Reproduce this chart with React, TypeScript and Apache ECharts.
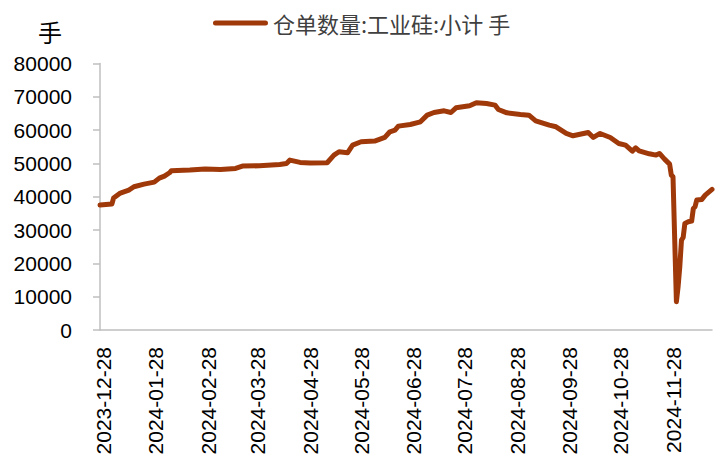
import { useEffect, useRef } from "react";
import * as echarts from "echarts";

const SERIES_NAME = "仓单数量:工业硅:小计 手";
const Y_UNIT = "手";
const START_DATE = "2023-12-26";
const END_DATE = "2024-12-21";

const sampleDates = [
  "2023-12-26", "2024-01-02", "2024-01-03", "2024-01-07", "2024-01-12", "2024-01-15",
  "2024-01-21", "2024-01-27", "2024-01-30", "2024-02-02", "2024-02-05", "2024-02-06",
  "2024-02-17", "2024-02-26", "2024-03-06", "2024-03-15", "2024-03-19", "2024-03-29",
  "2024-04-10", "2024-04-14", "2024-04-16", "2024-04-22", "2024-04-28", "2024-05-08",
  "2024-05-12", "2024-05-15", "2024-05-20", "2024-05-23", "2024-05-28", "2024-06-05",
  "2024-06-11", "2024-06-14", "2024-06-17", "2024-06-19", "2024-06-26", "2024-07-02",
  "2024-07-06", "2024-07-10", "2024-07-16", "2024-07-20", "2024-07-23", "2024-07-31",
  "2024-08-04", "2024-08-10", "2024-08-15", "2024-08-17", "2024-08-22", "2024-08-30",
  "2024-09-04", "2024-09-08", "2024-09-16", "2024-09-20", "2024-09-26", "2024-09-30",
  "2024-10-09", "2024-10-12", "2024-10-16", "2024-10-22", "2024-10-27", "2024-10-31",
  "2024-11-04", "2024-11-06", "2024-11-08", "2024-11-14", "2024-11-18", "2024-11-20",
  "2024-11-23", "2024-11-26", "2024-11-27", "2024-11-28", "2024-11-30", "2024-12-01",
  "2024-12-02", "2024-12-03", "2024-12-04", "2024-12-05", "2024-12-07", "2024-12-09",
  "2024-12-10", "2024-12-11", "2024-12-12", "2024-12-15", "2024-12-17", "2024-12-21",
];

const sampleValues = [
  37500, 37800, 39600, 41100, 42000, 43000,
  43800, 44400, 45600, 46200, 47200, 47800,
  48000, 48300, 48200, 48500, 49200, 49300,
  49700, 50000, 51000, 50300, 50100, 50200,
  52500, 53500, 53200, 55500, 56500, 56700,
  57800, 59500, 60000, 61200, 61700, 62500,
  64500, 65300, 65800, 65300, 66700, 67300,
  68200, 68000, 67500, 66200, 65200, 64700,
  64500, 62800, 61500, 61000, 59000, 58300,
  59300, 57800, 59000, 57800, 56000, 55500,
  53700, 54700, 53800, 52900, 52500, 53000,
  51300, 49800, 46500, 46000, 8500, 13000,
  19000, 27000, 27800, 32000, 32500, 32700,
  36500, 37000, 39000, 39200, 40500, 42200,
];

function buildCategories(start: string, end: string): string[] {
  const out: string[] = [];
  const d = new Date(start + "T00:00:00Z");
  const e = new Date(end + "T00:00:00Z");
  while (d.getTime() <= e.getTime()) {
    out.push(d.toISOString().slice(0, 10));
    d.setUTCDate(d.getUTCDate() + 1);
  }
  return out;
}

export default function App() {
  const ref = useRef<HTMLDivElement>(null);
  useEffect(() => {
    if (!ref.current) return;
    const chart = echarts.init(ref.current, undefined, { renderer: "svg" });
    const categories = buildCategories(START_DATE, END_DATE);
    const valueMap = new Map<string, number>();
    sampleDates.forEach((d, i) => valueMap.set(d, sampleValues[i]));
    const data = categories.map((c) => (valueMap.has(c) ? valueMap.get(c)! : null));
    const color = "#A0390A";
    const axisGray = "#BFBFBF";
    chart.setOption({
      animation: false,
      backgroundColor: "#ffffff",
      legend: {
        top: 7,
        left: 208,
        itemWidth: 55,
        itemHeight: 14,
        itemGap: 10,
        textStyle: {
          fontFamily: "Noto Sans CJK SC",
          fontSize: 22,
          color: "#404040",
        },
        data: [{ name: SERIES_NAME, icon: "path://M2.5,0 L52.5,0 A2.5,2.5 0 0 1 52.5,5 L2.5,5 A2.5,2.5 0 0 1 2.5,0 Z", itemStyle: { color } }],
      },
      grid: { left: 100, right: 10, top: 63.5, bottom: 130, containLabel: false },
      xAxis: {
        type: "category",
        data: categories,
        boundaryGap: false,
        axisLine: { lineStyle: { color: axisGray, width: 1.5 } },
        axisTick: { show: false },
        axisLabel: {
          interval: (_i: number, v: string) => v.endsWith("-28"),
          rotate: 90,
          margin: 17,
          fontFamily: "Liberation Sans",
          fontSize: 21,
          color: "#000000",
        },
        splitLine: { show: false },
      },
      yAxis: {
        type: "value",
        min: 0,
        max: 80000,
        interval: 10000,
        name: Y_UNIT,
        nameLocation: "end",
        nameGap: 20,
        nameTextStyle: {
          fontFamily: "Noto Sans CJK SC",
          fontSize: 24,
          color: "#000000",
          align: "center",
          padding: [0, 100, 0, 0],
        },
        axisLine: { show: true, lineStyle: { color: axisGray, width: 1.5 } },
        axisTick: { show: true, length: 7, lineStyle: { color: axisGray, width: 1.5 } },
        axisLabel: {
          margin: 28,
          fontFamily: "Liberation Sans",
          fontSize: 21,
          color: "#000000",
          formatter: (v: number) => String(v),
        },
        splitLine: { show: false },
      },
      series: [
        {
          name: SERIES_NAME,
          type: "line",
          data,
          connectNulls: true,
          showSymbol: false,
          symbol: "none",
          lineStyle: { color, width: 5, cap: "round", join: "round" },
          itemStyle: { color },
        },
      ],
    });
    return () => chart.dispose();
  }, []);
  return (
    <div
      ref={ref}
      style={{ position: "fixed", left: 0, top: 0, width: 722, height: 460, background: "#fff" }}
    />
  );
}
